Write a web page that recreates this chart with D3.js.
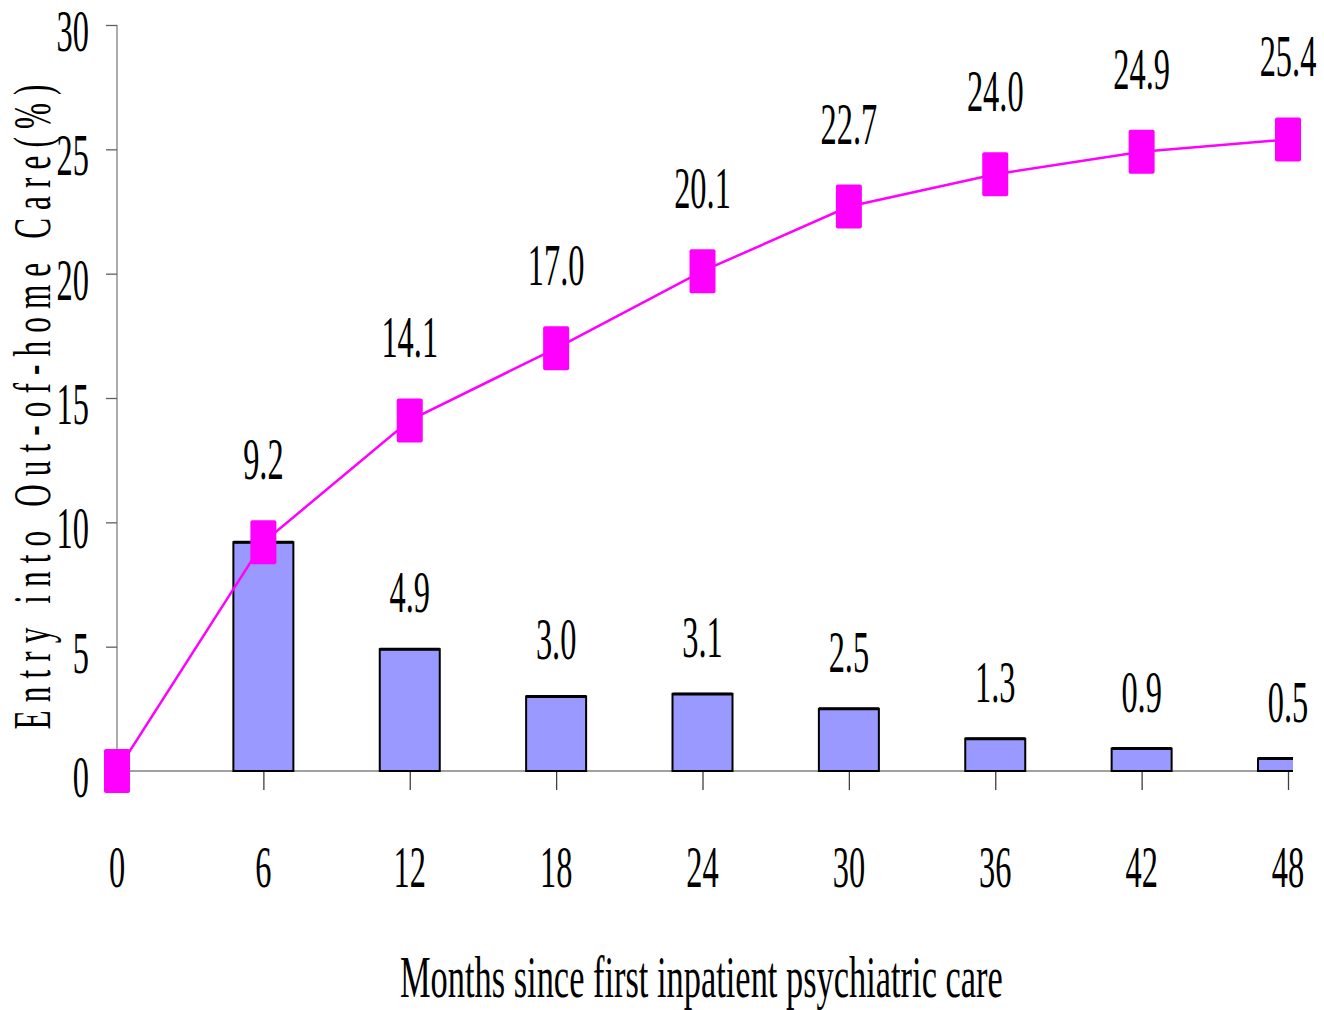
<!DOCTYPE html>
<html>
<head>
<meta charset="utf-8">
<script src="https://cdn.jsdelivr.net/npm/d3@7"></script>
<style>
  html, body { margin: 0; padding: 0; background: #fff; }
  svg { display: block; }
  text { font-family: "Liberation Serif", "Times New Roman", "DejaVu Serif", serif; fill: #000; }
</style>
</head>
<body>
<svg id="chart" width="1324" height="1010"></svg>
<script>
// Months since first inpatient psychiatric care
const months = [0, 6, 12, 18, 24, 30, 36, 42, 48];
// Cumulative entry into out-of-home care (%)
const cumulative = [0, 9.2, 14.1, 17.0, 20.1, 22.7, 24.0, 24.9, 25.4];
// Entry within each 6-month interval (%)
const barMonths = [6, 12, 18, 24, 30, 36, 42, 48];
const intervalEntry = [9.2, 4.9, 3.0, 3.1, 2.5, 1.3, 0.9, 0.5];
const yTicks = [0, 5, 10, 15, 20, 25, 30];
const xTitle = "Months since first inpatient psychiatric care";
const yTitle = "Entry into Out-of-home Care(%)";

(function draw() {
  const svg = d3.select("#chart");
  const plotLeft = 117, lastX = 1288, plotTop = 25, plotBottom = 771, plotRight = 1293;
  const sx = 0.54;           // condensed lettering
  const fs = 60;

  const x = d3.scaleLinear().domain([0, 48]).range([plotLeft, lastX]);
  const y = d3.scaleLinear().domain([0, 30]).range([plotBottom, plotTop]);

  // condensed text helper
  function label(g, tx, ty, str, anchor = "middle", scale = sx, size = fs) {
    return g.append("text")
      .attr("transform", `translate(${tx},${ty}) scale(${scale},1)`)
      .attr("text-anchor", anchor)
      .attr("font-size", size)
      .text(str);
  }

  // clip for bars (plot area)
  svg.append("defs").append("clipPath").attr("id", "plotClip")
    .append("rect").attr("x", plotLeft).attr("y", 0)
    .attr("width", plotRight - plotLeft).attr("height", plotBottom + 1);

  // Y axis
  const yAxis = svg.append("g").attr("transform", `translate(${plotLeft},0)`)
    .call(d3.axisLeft(y).tickValues(yTicks).tickSize(11).tickFormat(""));
  yAxis.select(".domain").attr("stroke", "#808080").attr("stroke-width", 1.3)
    .attr("d", `M0,${plotTop}V${plotBottom}`);
  yAxis.selectAll(".tick line").attr("stroke", "#606060").attr("stroke-width", 1.3);
  yTicks.forEach(t => label(svg, 89, y(t) + 26, String(t), "end"));

  // X axis
  const xAxis = svg.append("g").attr("transform", `translate(0,${plotBottom})`)
    .call(d3.axisBottom(x).tickValues(months.slice(1)).tickSize(19).tickFormat(""));
  xAxis.select(".domain").attr("stroke", "#808080").attr("stroke-width", 1.3)
    .attr("d", `M${plotLeft},0H${plotRight}`);
  xAxis.selectAll(".tick line").attr("stroke", "#404040").attr("stroke-width", 1.3);
  months.forEach(m => label(svg, x(m), 887, String(m)));

  // Bars
  const barW = 60;
  const bars = svg.append("g").attr("clip-path", "url(#plotClip)");
  bars.selectAll("rect").data(barMonths).join("rect")
    .attr("x", d => x(d) - barW / 2)
    .attr("y", (d, i) => y(intervalEntry[i]))
    .attr("width", barW)
    .attr("height", (d, i) => plotBottom - y(intervalEntry[i]))
    .attr("fill", "#9999ff")
    .attr("stroke", "#000")
    .attr("stroke-width", 2);
  bars.selectAll("line.cap").data(barMonths).join("line").attr("class", "cap")
    .attr("x1", d => x(d) - barW / 2).attr("x2", d => x(d) + barW / 2)
    .attr("y1", (d, i) => y(intervalEntry[i])).attr("y2", (d, i) => y(intervalEntry[i]))
    .attr("stroke", "#000").attr("stroke-width", 3);

  // Bar value labels (first interval shares the cumulative label)
  barMonths.forEach((m, i) => {
    if (i === 0) return;
    label(svg, x(m), y(intervalEntry[i]) - 37, intervalEntry[i].toFixed(1));
  });

  // Cumulative line
  const line = d3.line().x((d, i) => x(months[i])).y(d => y(d));
  svg.append("path").datum(cumulative)
    .attr("d", line).attr("fill", "none").attr("stroke", "#ff00ff").attr("stroke-width", 2.5);

  // Markers
  const mw = 26, mh = 44;
  svg.append("g").selectAll("rect").data(cumulative).join("rect")
    .attr("x", (d, i) => x(months[i]) - mw / 2)
    .attr("y", d => y(d) - mh / 2)
    .attr("width", mw).attr("height", mh)
    .attr("rx", 2)
    .attr("fill", "#ff00ff");

  // Cumulative labels
  cumulative.forEach((v, i) => {
    if (i === 0) return;
    label(svg, x(months[i]), y(v) - 63, v.toFixed(1));
  });

  // Axis titles
  const xt = label(svg, 0, 0, xTitle, "start", 1);
  const xtLen = xt.node().getComputedTextLength();
  xt.attr("transform", `translate(400,997) scale(${603 / xtLen},1)`);

  const ytScale = 0.6;
  svg.append("text")
    .attr("transform", `translate(50,407) rotate(-90) scale(${ytScale},1)`)
    .attr("text-anchor", "middle")
    .attr("font-size", 52)
    .attr("textLength", 645 / ytScale)
    .attr("lengthAdjust", "spacing")
    .text(yTitle);
})();
</script>
</body>
</html>
